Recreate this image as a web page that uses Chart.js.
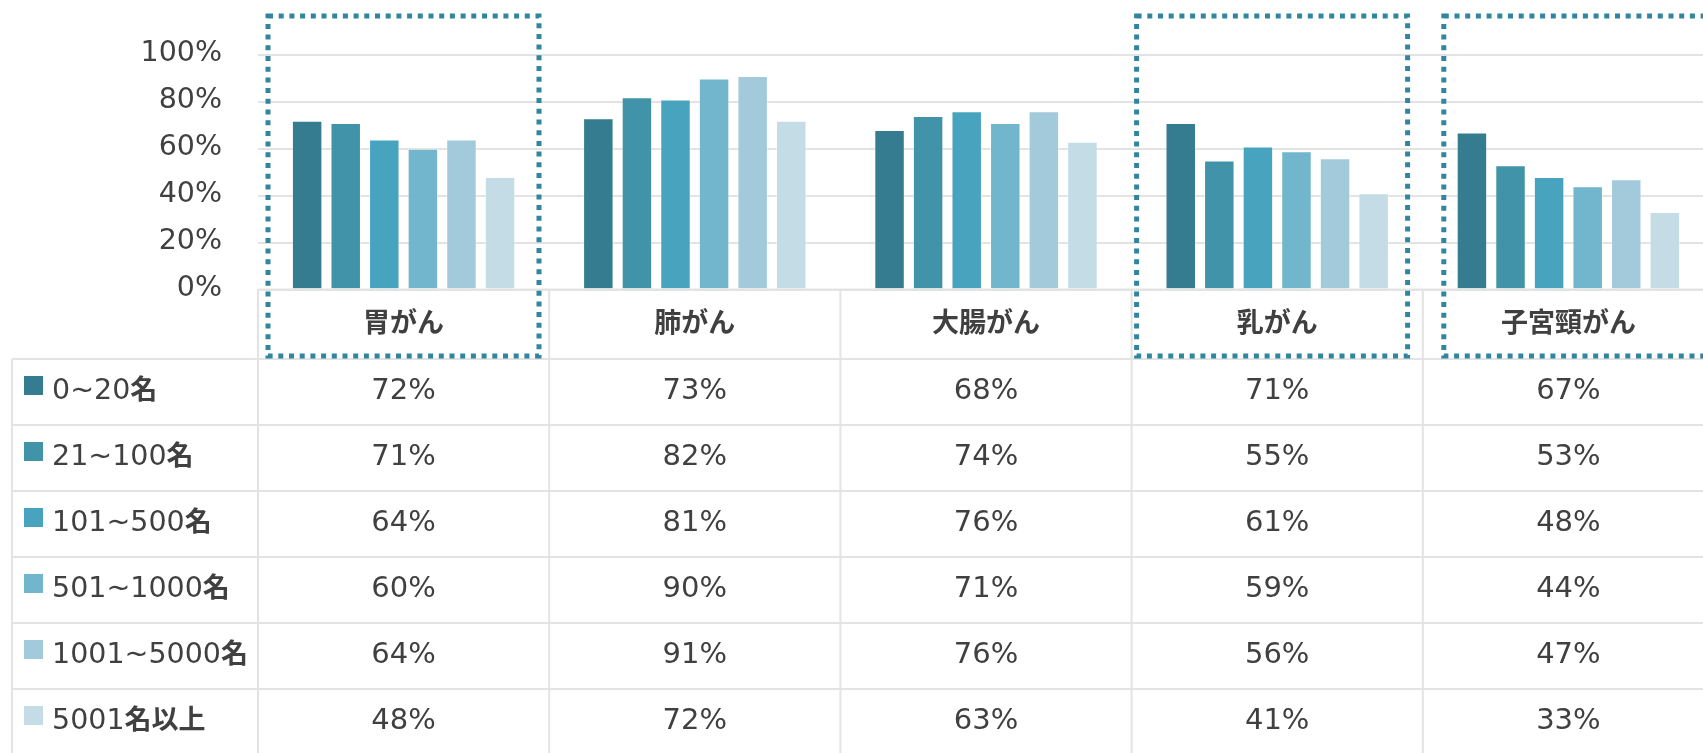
<!DOCTYPE html>
<html lang="ja">
<head>
<meta charset="UTF-8">
<title>がん検診受診率（従業員規模別）</title>
<script src="https://cdn.jsdelivr.net/npm/chart.js@4.4.1/dist/chart.umd.min.js"></script>
<style>
  html, body { margin: 0; padding: 0; background: #fff; overflow: hidden; }
  .chart-wrap { position: relative; width: 1714px; height: 753px; }
</style>
</head>
<body>
<div class="chart-wrap"><canvas id="screeningChart"></canvas></div>
<script>
// --- Data ---
const categories = ['胃がん', '肺がん', '大腸がん', '乳がん', '子宮頸がん'];
const sizeLabels = ['0~20名', '21~100名', '101~500名', '501~1000名', '1001~5000名', '5001名以上'];

const size0to20     = [72, 73, 68, 71, 67];
const size21to100   = [71, 82, 74, 55, 53];
const size101to500  = [64, 81, 76, 61, 48];
const size501to1000 = [60, 90, 71, 59, 44];
const size1001to5000 = [64, 91, 76, 56, 47];
const size5001plus  = [48, 72, 63, 41, 33];

const yTicks = [0, 20, 40, 60, 80, 100];
const highlighted = ['胃がん', '乳がん', '子宮頸がん'];

// --- Styles ---
const seriesValues = [size0to20, size21to100, size101to500, size501to1000, size1001to5000, size5001plus];
const seriesColors = ['#367C90', '#4193AA', '#48A4BE', '#71B6CC', '#A2CADA', '#C3DCE5'];
const textColor = '#404040';
const lineColor = '#E3E3E3';
const latinFont = '"DejaVu Sans"';
const cjkFont = '"Noto Sans CJK JP"';
const rowHeight = 66;
const boxShift = [10, 5, 21];   // hand-placed offsets of the dotted frames
const boxWidth = 271;

// draws a label, using bold CJK glyphs and regular latin digits
function drawMixedText(ctx, text, x, y) {
    const parts = text.split(/([\u3040-\u30ff\u3400-\u9fff]+)/).filter(p => p);
    parts.forEach(p => {
        const isCjk = /[\u3040-\u30ff\u3400-\u9fff]/.test(p);
        ctx.font = isCjk ? `bold 27px ${cjkFont}` : `28.5px ${latinFont}`;
        ctx.fillText(p, x, y);
        x += ctx.measureText(p).width;
    });
}

// --- Data table under the category axis ---
const dataTable = {
    id: 'dataTable',
    afterDraw(chart) {
        const ctx = chart.ctx;
        const xs = chart.scales.x;
        const area = chart.chartArea;
        const catW = xs.width / categories.length;
        const headTop = area.bottom;
        const tableTop = xs.bottom;
        const tableLeft = 12;
        const bottom = chart.height;

        ctx.save();
        ctx.strokeStyle = lineColor;
        ctx.lineWidth = 2;
        ctx.beginPath();
        ctx.moveTo(area.left, headTop);
        ctx.lineTo(xs.right, headTop);
        for (let r = 0; r <= sizeLabels.length; r++) {
            const y = tableTop + r * rowHeight;
            ctx.moveTo(tableLeft, y);
            ctx.lineTo(xs.right, y);
        }
        for (let i = 0; i <= categories.length; i++) {
            const x = xs.left + i * catW;
            ctx.moveTo(x, headTop);
            ctx.lineTo(x, bottom);
        }
        ctx.moveTo(tableLeft, tableTop);
        ctx.lineTo(tableLeft, bottom);
        ctx.stroke();

        ctx.textBaseline = 'alphabetic';
        sizeLabels.forEach((label, r) => {
            const rowTop = tableTop + r * rowHeight;
            const base = rowTop + 39.5;
            ctx.fillStyle = seriesColors[r];
            ctx.fillRect(24, rowTop + 17, 19, 19);

            ctx.fillStyle = textColor;
            ctx.textAlign = 'left';
            drawMixedText(ctx, label, 52, base);

            ctx.font = `29px ${latinFont}`;
            ctx.textAlign = 'center';
            seriesValues[r].forEach((v, i) => {
                ctx.fillText(v + '%', xs.getPixelForValue(i), base);
            });
        });
        ctx.restore();
    }
};

// --- Dotted frames around the focus categories ---
const focusBoxes = {
    id: 'focusBoxes',
    afterDraw(chart) {
        const ctx = chart.ctx;
        const xs = chart.scales.x;
        const catW = xs.width / categories.length;
        const top = chart.chartArea.top - 39;
        const bottom = xs.bottom - 3;

        ctx.save();
        ctx.strokeStyle = '#2F869E';
        ctx.lineWidth = 5;
        ctx.setLineDash([5, 5.7]);
        highlighted.forEach((name, k) => {
            const i = categories.indexOf(name);
            const left = xs.getPixelForValue(i) - catW / 2 + boxShift[k];
            ctx.strokeRect(left, top, boxWidth, bottom - top);
        });
        ctx.restore();
    }
};

new Chart(document.getElementById('screeningChart'), {
    type: 'bar',
    data: {
        labels: categories,
        datasets: sizeLabels.map((label, r) => ({
            label: label,
            data: seriesValues[r],
            backgroundColor: seriesColors[r],
            borderColor: 'rgba(255, 255, 255, 0.45)',
            borderWidth: 1,
            categoryPercentage: 0.795,
            barPercentage: 0.79
        }))
    },
    options: {
        responsive: true,
        maintainAspectRatio: false,
        animation: false,
        layout: { padding: { top: 55, bottom: 394, left: 0, right: 0 } },
        plugins: {
            legend: { display: false },
            tooltip: { enabled: false }
        },
        scales: {
            x: {
                grid: { display: false, drawTicks: false },
                border: { display: false },
                ticks: {
                    padding: 16,
                    color: textColor,
                    font: { family: cjkFont, weight: 'bold', size: 27 }
                },
                afterFit: s => { s.height = 69.5; }
            },
            y: {
                min: 0,
                max: 100,
                afterBuildTicks: s => { s.ticks = yTicks.map(v => ({ value: v })); },
                grid: { color: lineColor, lineWidth: 2, drawTicks: false },
                border: { display: false },
                ticks: {
                    padding: 36,
                    labelOffset: -1,
                    color: textColor,
                    font: { family: latinFont, size: 28.5 },
                    callback: v => v + '%'
                },
                afterFit: s => { s.width = 258; }
            }
        }
    },
    plugins: [dataTable, focusBoxes]
});
</script>
</body>
</html>
